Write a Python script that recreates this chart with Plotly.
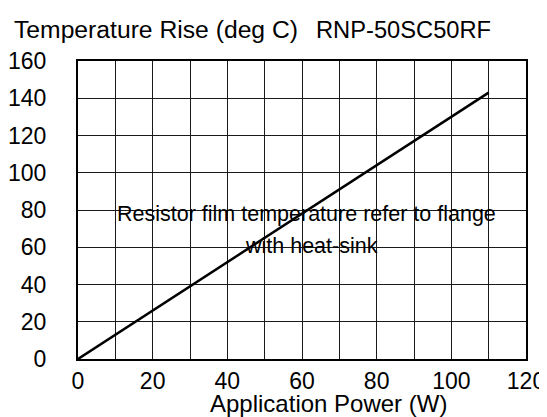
import plotly.graph_objects as go

# Data
power_w = [0, 110]
temp_rise = [0, 143]
x_ticks = [0, 20, 40, 60, 80, 100, 120]
y_ticks = [0, 20, 40, 60, 80, 100, 120, 140, 160]
title_left = "Temperature Rise (deg C)"
title_right = "RNP-50SC50RF"
x_title = "Application Power (W)"
note_line1 = "Resistor film temperature refer to flange"
note_line2 = "with heat-sink"

FONT = "Liberation Sans, Arial, sans-serif"

fig = go.Figure()
fig.add_trace(go.Scatter(x=power_w, y=temp_rise, mode="lines",
                         line=dict(color="black", width=2.5),
                         hoverinfo="skip", showlegend=False))

# page body adds an 8px offset; lay out in page pixels and compensate
OFF = 8
PAGE_W, PAGE_H = 547, 417
PL, PR, PT, PB = 78, 526, 61, 359   # plot area edges in page pixels
W, H = PAGE_W - OFF, PAGE_H - OFF
L, T = PL - OFF, PT - OFF
R, B = W - (PR - OFF), H - (PB - OFF)
pw, ph = PR - PL, PB - PT

def px_x(p):
    return (p - PL) / pw

def px_y(p):
    return (PB - p) / ph

fig.update_layout(
    width=W, height=H,
    margin=dict(l=L, r=R, t=T, b=B, pad=0),
    paper_bgcolor="white", plot_bgcolor="white",
    font=dict(family=FONT, color="black", size=23),
    xaxis=dict(range=[0, 120], tickvals=x_ticks, ticktext=[str(v) for v in x_ticks],
               showgrid=True, gridcolor="#1a1a1a", gridwidth=1,
               minor=dict(dtick=10, showgrid=True, gridcolor="#1a1a1a", gridwidth=1),
               showline=True, linecolor="black", linewidth=2, mirror=True,
               ticks="", ticklabelstandoff=0, zeroline=False, automargin=False,
               tickfont=dict(size=23, family=FONT, color="black")),
    yaxis=dict(range=[0, 160], tickvals=y_ticks, ticktext=[str(v) for v in y_ticks],
               showgrid=True, gridcolor="#1a1a1a", gridwidth=1,
               showline=True, linecolor="black", linewidth=2, mirror=True,
               ticks="", ticklabelstandoff=25, zeroline=False, automargin=False,
               tickfont=dict(size=23, family=FONT, color="black")),
)

ann_font = dict(family=FONT, color="black")
fig.add_annotation(text=title_left, xref="paper", yref="paper",
                   x=px_x(12), y=px_y(30), xanchor="left", yanchor="middle",
                   showarrow=False, font=dict(size=24.7, **ann_font))
fig.add_annotation(text=title_right, xref="paper", yref="paper",
                   x=px_x(314), y=px_y(30), xanchor="left", yanchor="middle",
                   showarrow=False, font=dict(size=23.7, **ann_font))
fig.add_annotation(text=x_title, xref="paper", yref="paper",
                   x=px_x(328), y=px_y(403), xanchor="center", yanchor="middle",
                   showarrow=False, font=dict(size=24, **ann_font))
fig.add_annotation(text=note_line1, xref="x", yref="y",
                   x=61.3, y=77.9, xanchor="center", yanchor="middle",
                   showarrow=False, font=dict(size=21.5, **ann_font))
fig.add_annotation(text=note_line2, xref="x", yref="y",
                   x=62.6, y=60.7, xanchor="center", yanchor="middle",
                   showarrow=False, font=dict(size=21.5, **ann_font))

fig.write_html("out.html")
